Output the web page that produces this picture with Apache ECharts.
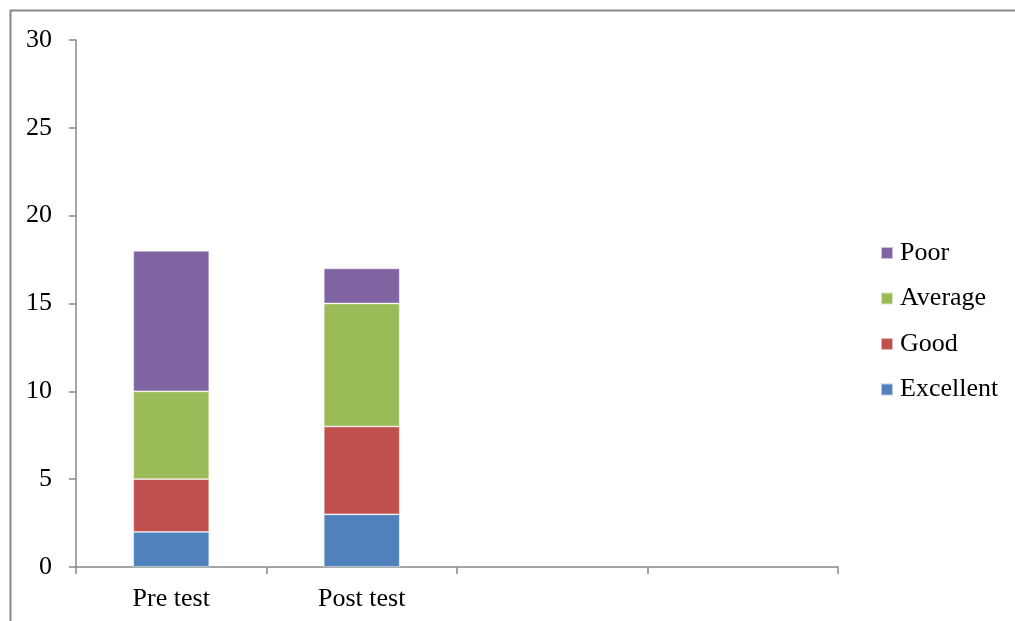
<!DOCTYPE html>
<html><head><meta charset="utf-8">
<script src="https://cdn.jsdelivr.net/npm/echarts@6/dist/echarts.min.js"></script>
<style>html,body{margin:0;padding:0;background:#fff}#c{width:1015px;height:621px}</style>
</head><body><div id="c"></div>
<script>
const categories = ['Pre test', 'Post test', '', ''];
const excellent = [2, 3, null, null];
const good = [3, 5, null, null];
const average = [5, 7, null, null];
const poor = [8, 2, null, null];
const yTicks = {min: 0, max: 30, interval: 5};

const chart = echarts.init(document.getElementById('c'));
const font = '"Liberation Serif", "Times New Roman", serif';
function s(name, data, color) {
  return {name, type: 'bar', stack: 'a', data, barWidth: 76,
    itemStyle: {color, borderColor: 'rgba(255,255,255,0.6)', borderWidth: 0.8}};
}
chart.setOption({
  animation: false,
  textStyle: {fontFamily: font},
  graphic: [{type: 'rect', shape: {x: 10.5, y: 10.5, width: 1100, height: 700},
    style: {fill: 'none', stroke: '#888', lineWidth: 2}, silent: true}],
  grid: {left: 76, right: 177, top: 40, bottom: 54},
  legend: {orient: 'vertical', left: 880, top: 240, padding: 0, itemWidth: 12, itemHeight: 12, itemGap: 19.5,
    icon: 'rect', textStyle: {fontFamily: font, fontSize: 26, color: '#000', padding: [0,0,0,2]},
    data: ['Poor', 'Average', 'Good', 'Excellent']},
  xAxis: {type: 'category', data: categories,
    axisLine: {lineStyle: {color: '#888', width: 1.5}},
    axisTick: {show: true, length: 7, lineStyle: {color: '#888', width: 1.5}},
    axisLabel: {fontFamily: font, fontSize: 26, color: '#000', margin: 19, interval: 0}},
  yAxis: {type: 'value', min: yTicks.min, max: yTicks.max, interval: yTicks.interval,
    splitLine: {show: false},
    axisLine: {show: true, lineStyle: {color: '#888', width: 1.5}},
    axisTick: {show: true, length: 7, lineStyle: {color: '#888', width: 1.5}},
    axisLabel: {fontFamily: font, fontSize: 26, color: '#000', margin: 24}},
  series: [s('Excellent', excellent, '#4F81BD'), s('Good', good, '#C0504D'),
    s('Average', average, '#9BBB59'), s('Poor', poor, '#8064A2')]
});
</script></body></html>
